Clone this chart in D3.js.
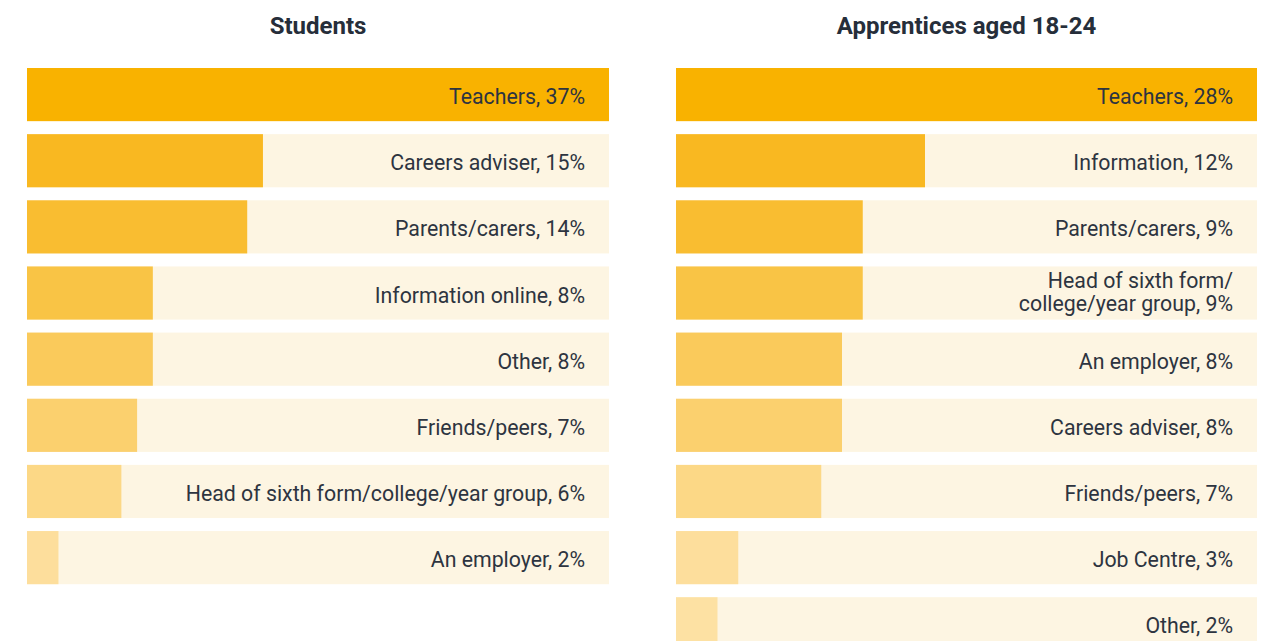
<!DOCTYPE html>
<html>
<head>
  <style>
    body { margin: 0; background: #fff; }
    svg text { font-family: Roboto, "Noto Sans", sans-serif; }
  </style>
</head>
<body>
  <script src="https://d3js.org/d3.v7.min.js"></script>
  <script>
    // left panel
    const studentLabels = ["Teachers", "Careers adviser", "Parents/carers", "Information online",
      "Other", "Friends/peers", "Head of sixth form/college/year group", "An employer"];
    const studentValues = [37, 15, 14, 8, 8, 7, 6, 2];

    // right panel
    const apprenticeLabels = ["Teachers", "Information", "Parents/carers",
      "Head of sixth form/\ncollege/year group", "An employer", "Careers adviser",
      "Friends/peers", "Job Centre", "Other"];
    const apprenticeValues = [28, 12, 9, 9, 8, 8, 7, 3, 2];

    const titles = ["Students", "Apprentices aged 18-24"];

    const rankColors = ["#F9B200", "#F9B821", "#F9BD31", "#F9C445", "#FACA5B",
      "#FBD06E", "#FCD886", "#FDDE9C", "#FDE1A3"];

    const w = 1268;
    const h = 641;

    const svg = d3.select("body")
      .append("svg")
      .attr("width", w)
      .attr("height", h);

    const step = 66.15;
    const yScale = d3.scaleBand()
      .domain(d3.range(9))
      .range([68, 68 + 9 * step - 13])
      .paddingInner(13 / step)
      .paddingOuter(0);

    const panels = [
      { x0: 27, x1: 609, labels: studentLabels, values: studentValues, title: titles[0] },
      { x0: 676, x1: 1257, labels: apprenticeLabels, values: apprenticeValues, title: titles[1] }
    ];

    panels.forEach((p) => {
      const xScale = d3.scaleLinear()
        .domain([0, d3.max(p.values)])
        .range([p.x0, p.x1]);

      const g = svg.append("g");

      g.append("text")
        .attr("x", (p.x0 + p.x1) / 2)
        .attr("y", 34)
        .attr("text-anchor", "middle")
        .attr("font-size", "24px")
        .attr("font-weight", "bold")
        .attr("fill", "#262E3A")
        .text(p.title);

      const rows = g.selectAll("g.row")
        .data(p.values.map((v, i) => ({ v: v, label: p.labels[i], i: i })))
        .enter()
        .append("g")
        .attr("class", "row");

      // background track
      rows.append("rect")
        .attr("x", xScale(0))
        .attr("y", (d) => yScale(d.i))
        .attr("width", xScale.range()[1] - xScale(0))
        .attr("height", yScale.bandwidth())
        .attr("fill", "#FDF5E2");

      rows.append("rect")
        .attr("x", xScale(0))
        .attr("y", (d) => yScale(d.i))
        .attr("width", (d) => xScale(d.v) - xScale(0))
        .attr("height", yScale.bandwidth())
        .attr("fill", (d) => rankColors[d.i]);

      rows.append("text")
        .attr("x", xScale.range()[1] - 24)
        .attr("y", (d) => yScale(d.i) + yScale.bandwidth() / 2)
        .attr("text-anchor", "end")
        .attr("font-size", "21.3px")
        .attr("fill", "#2D3440")
        .each(function (d) {
          const lines = (d.label + ", " + d.v + "%").split("\n");
          const t = d3.select(this);
          lines.forEach((line, k) => {
            t.append("tspan")
              .attr("x", xScale.range()[1] - 24)
              .attr("dy", k === 0 ? (9.5 - (lines.length - 1) * 15) + "px" : "23px")
              .text(line);
          });
        });
    });
  </script>
</body>
</html>
